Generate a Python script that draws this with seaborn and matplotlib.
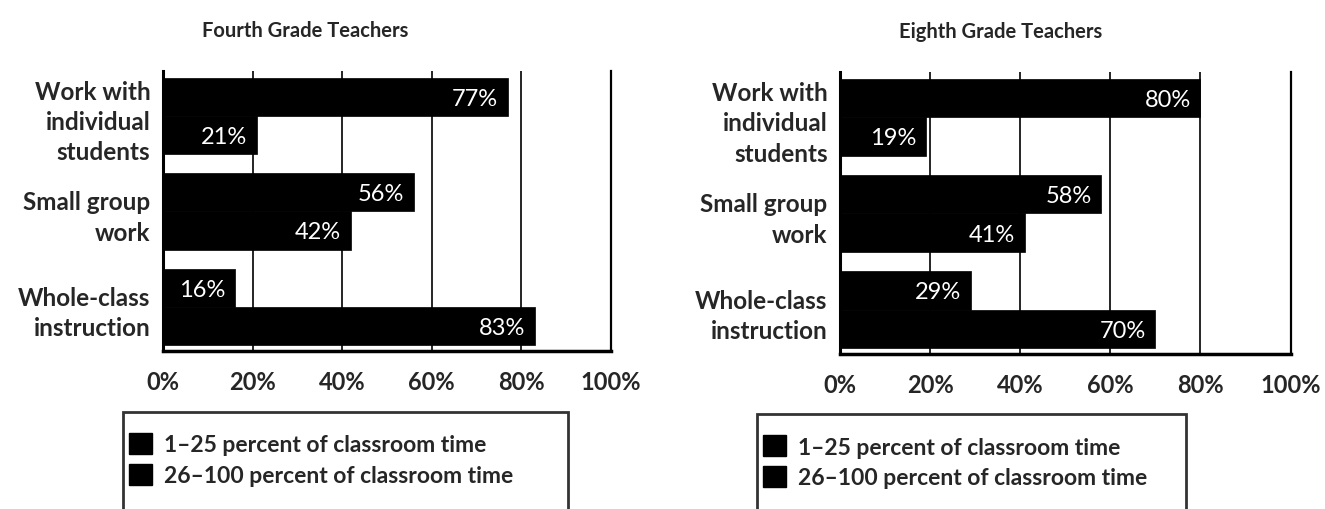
import pandas as pd
import matplotlib.pyplot as plt
import seaborn as sns
from matplotlib.patches import Patch

# dữ liệu
activities = ["Work with\nindividual\nstudents", "Small group\nwork", "Whole-class\ninstruction"]
time_levels = ["1\u201325 percent of classroom time", "26\u2013100 percent of classroom time"]
fourth_low = [77, 56, 16]
fourth_high = [21, 42, 83]
eighth_low = [80, 58, 29]
eighth_high = [19, 41, 70]
x_ticks = [0, 20, 40, 60, 80, 100]
x_ticklabels = ["0%", "20%", "40%", "60%", "80%", "100%"]

sns.set_style("white")
plt.rcParams["font.family"] = ["Lato", "DejaVu Sans"]


def make_df(low, high):
    rows = []
    for act, a, b in zip(activities, low, high):
        rows.append({"activity": act, "time": time_levels[0], "pct": a})
        rows.append({"activity": act, "time": time_levels[1], "pct": b})
    return pd.DataFrame(rows)


def draw_panel(ax, df, title, title_x, leg_anchor):
    sns.barplot(data=df, y="activity", x="pct", hue="time", orient="h",
                palette=["black", "black"], saturation=1, ax=ax, legend=False,
                order=activities, hue_order=time_levels, zorder=3,
                edgecolor="black", linewidth=0.5)
    ax.set_xlim(0, 100)
    ax.set_ylim(2.46, -0.47)
    ax.set_xticks(x_ticks)
    ax.set_xticklabels(x_ticklabels, fontsize=17, fontweight="bold")
    ax.tick_params(axis="x", length=0, pad=14)
    ax.tick_params(axis="y", length=0, pad=9)
    for lbl in ax.get_yticklabels():
        lbl.set_fontsize(17.5)
        lbl.set_fontweight("bold")
        lbl.set_horizontalalignment("right")
        lbl.set_multialignment("right")
        lbl.set_linespacing(1.38)
    ax.set_xlabel("")
    ax.set_ylabel("")
    ax.xaxis.grid(True, color="black", linewidth=1.2, zorder=0)
    ax.set_axisbelow(True)
    ax.spines["top"].set_visible(False)
    ax.spines["left"].set_linewidth(2.2)
    ax.spines["bottom"].set_linewidth(2.5)
    ax.spines["right"].set_linewidth(1.6)
    for s in ["left", "bottom", "right"]:
        ax.spines[s].set_color("black")

    # nhãn giá trị bên trong thanh
    for cont in ax.containers:
        for p in cont:
            w = p.get_width()
            ax.annotate(f"{w:.0f}%", (w, p.get_y() + p.get_height() / 2),
                        xytext=(-7, -1), textcoords="offset points",
                        ha="right", va="center", color="white", fontsize=17, zorder=4)

    ax.set_title(title, x=title_x, pad=25, fontsize=14.5, fontweight="bold")

    handles = [Patch(facecolor="black", edgecolor="black"),
               Patch(facecolor="black", edgecolor="black"),
               Patch(facecolor="none", edgecolor="none")]
    leg = ax.legend(handles, time_levels + [" "], loc="upper left",
                    bbox_to_anchor=leg_anchor, mode="expand", borderaxespad=0,
                    prop={"size": 16.5, "weight": "bold"}, title=" ", title_fontsize=5,
                    handlelength=1.0, handleheight=1.0, handletextpad=0.55,
                    labelspacing=0.38, borderpad=0.25, frameon=True, fancybox=False)
    leg.get_frame().set_edgecolor("black")
    leg.get_frame().set_linewidth(2)


fig = plt.figure(figsize=(13.25, 5.1), dpi=100)
ax1 = fig.add_axes([0.123, 0.31, 0.338, 0.549])
ax2 = fig.add_axes([0.634, 0.304, 0.34, 0.553])

draw_panel(ax1, make_df(fourth_low, fourth_high), "Fourth Grade Teachers", 0.317,
           (-0.089, -0.218 - 0.01, 0.993, 0.01))
draw_panel(ax2, make_df(eighth_low, eighth_high), "Eighth Grade Teachers", 0.356,
           (-0.184, -0.213 - 0.01, 0.951, 0.01))

fig.savefig("out.png", dpi=100)
